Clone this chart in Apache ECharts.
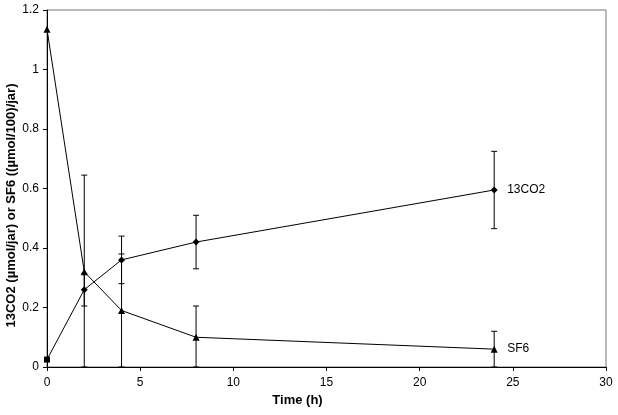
<!DOCTYPE html>
<html><head><meta charset="utf-8">
<script src="https://cdn.jsdelivr.net/npm/echarts@6/dist/echarts.min.js"></script>
<style>html,body{margin:0;padding:0;background:#fff}#c{width:618px;height:415px}</style>
</head><body><div id="c"></div>
<script>
const times = [0, 2, 4, 8, 24];
const co2 = [0.025, 0.26, 0.36, 0.42, 0.595];
const co2Err = [0, 0.055, 0.08, 0.09, 0.13];
const sf6 = [1.135, 0.32, 0.19, 0.10, 0.06];
const sf6Err = [0, 0.325, 0.19, 0.105, 0.06];
const yTicks = [0, 0.2, 0.4, 0.6, 0.8, 1, 1.2];
const xTicks = [0, 5, 10, 15, 20, 25, 30];

const font = '"Liberation Sans", Arial, sans-serif';
function errData(vals, errs) {
  return times.map((t, i) => [t, Math.max(0, vals[i] - errs[i]), vals[i] + errs[i]]).filter((d, i) => errs[i] > 0);
}
function errSeries(vals, errs) {
  return {
    type: 'custom', z: 1,
    data: errData(vals, errs),
    renderItem: function (params, api) {
      const x = api.value(0);
      const lo = api.coord([x, api.value(1)]);
      const hi = api.coord([x, api.value(2)]);
      const w = 3;
      const st = { stroke: '#000', lineWidth: 1 };
      return { type: 'group', children: [
        { type: 'line', shape: { x1: lo[0], y1: lo[1], x2: hi[0], y2: hi[1] }, style: st },
        { type: 'line', shape: { x1: lo[0] - w, y1: lo[1], x2: lo[0] + w, y2: lo[1] }, style: st },
        { type: 'line', shape: { x1: hi[0] - w, y1: hi[1], x2: hi[0] + w, y2: hi[1] }, style: st }
      ]};
    }
  };
}
const chart = echarts.init(document.getElementById('c'));
chart.setOption({
  animation: false,
  backgroundColor: '#fff',
  grid: { left: 47, right: 12, top: 10, bottom: 48, show: true, borderColor: '#777', borderWidth: 1,
          containLabel: false, outerBoundsMode: 'none' },
  xAxis: {
    type: 'value', min: 0, max: 30, interval: 5,
    name: 'Time (h)', nameLocation: 'middle', nameGap: 27,
    nameTextStyle: { fontFamily: font, fontWeight: 'bold', fontSize: 13, color: '#000', padding: [0, 58, 0, 0] },
    axisLine: { show: true, lineStyle: { color: '#000' } },
    axisTick: { show: true, length: 4, lineStyle: { color: '#000' } },
    axisLabel: { fontFamily: font, fontSize: 12, color: '#000', margin: 10 },
    splitLine: { show: false }
  },
  yAxis: {
    type: 'value', min: 0, max: 1.2, interval: 0.2,
    name: '13CO2 (µmol/jar) or SF6 ((µmol/100)/jar)', nameLocation: 'middle', nameGap: 29,
    nameMoveOverlap: false,
    nameTextStyle: { fontFamily: font, fontWeight: 'bold', fontSize: 13, color: '#000', padding: [0, 34, 0, 0] },
    axisLine: { show: true, lineStyle: { color: '#000' } },
    axisTick: { show: true, length: 4, lineStyle: { color: '#000' } },
    axisLabel: { fontFamily: font, fontSize: 12, color: '#000', margin: 8,
      formatter: v => String(+v.toFixed(1)) },
    splitLine: { show: false }
  },
  series: [
    errSeries(co2, co2Err),
    errSeries(sf6, sf6Err),
    {
      type: 'line', name: '13CO2', z: 2,
      data: times.map((t, i) => ({ value: [t, co2[i]], symbol: i === 0 ? 'rect' : 'diamond', symbolSize: i === 0 ? 6 : 7 })),
      lineStyle: { color: '#000', width: 1 },
      itemStyle: { color: '#000' },
      endLabel: { show: true, formatter: '13CO2', fontFamily: font, fontSize: 12, color: '#000', distance: 13 }
    },
    {
      type: 'line', name: 'SF6', z: 2,
      data: times.map((t, i) => [t, sf6[i]]),
      symbol: 'triangle', symbolSize: 7,
      lineStyle: { color: '#000', width: 1 },
      itemStyle: { color: '#000' },
      endLabel: { show: true, formatter: 'SF6', fontFamily: font, fontSize: 12, color: '#000', distance: 13 }
    }
  ]
});
</script></body></html>
